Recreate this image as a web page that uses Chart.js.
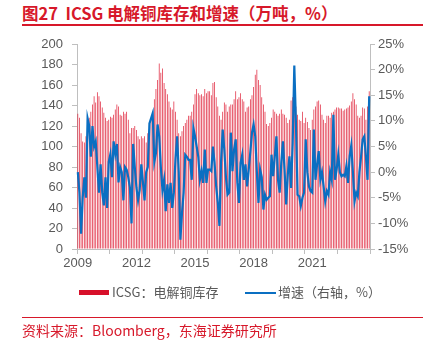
<!DOCTYPE html>
<html lang="zh">
<head>
<meta charset="UTF-8">
<title>ICSG 电解铜库存和增速</title>
<script src="https://cdn.jsdelivr.net/npm/chart.js"></script>
<style>
  body { margin: 0; width: 436px; height: 346px; position: relative; background: #fff; overflow: hidden;
         font-family: "Noto Sans CJK SC", "Liberation Sans", sans-serif; }
  #chart { position: absolute; left: 0; top: 0; }
  #title { position: absolute; left: 22px; top: 1px; font-size: 16.5px; font-weight: bold; color: #d7182a; white-space: nowrap; }
  #topLine { position: absolute; left: 22px; top: 24px; width: 401px; height: 2px; background: #d7182a; }
  #bottomLine { position: absolute; left: 22px; top: 317px; width: 401px; height: 1px; background: #d7182a; }
  #source { position: absolute; left: 22px; top: 320px; font-size: 14px; color: #d7182a; white-space: nowrap; }
  .legend { position: absolute; top: 283px; font-size: 13px; color: #595959; white-space: nowrap; line-height: 18px; }
  .swatch { position: absolute; }
</style>
</head>
<body>

<div id="title">图27&nbsp; ICSG 电解铜库存和增速（万吨，%）</div>
<div id="topLine"></div>

<canvas id="chart" width="436" height="346"></canvas>

<div class="swatch" style="left:79px; top:290px; width:30px; height:5px; background:#d7102a;"></div>
<div class="legend" style="left:112px;">ICSG：电解铜库存</div>
<div class="swatch" style="left:245px; top:292px; width:31px; height:2px; background:#0a6fc2;"></div>
<div class="legend" style="left:278px;">增速（右轴，%）</div>

<div id="bottomLine"></div>
<div id="source">资料来源：Bloomberg，东海证券研究所</div>

<script>
    // months 2009-01 .. 2023-12
    const months = [];
    for (let y = 2009; y <= 2023; y++) {
        for (let m = 1; m <= 12; m++) months.push(y + '-' + String(m).padStart(2, '0'));
    }

    // ICSG refined copper stocks (10k tonnes), one row per year
    const stock2009 = [132, 128, 113, 105, 104, 110, 123, 128, 134, 141, 149, 143];
    const stock2010 = [153, 149, 144, 138, 133, 128, 125, 126, 129, 128, 131, 136];
    const stock2011 = [141, 139, 131, 130, 134, 132, 134, 126, 113, 118, 118, 120];
    const stock2012 = [116, 110, 107, 110, 108, 110, 104, 113, 121, 126, 134, 146];
    const stock2013 = [156, 165, 181, 172, 176, 162, 156, 151, 144, 138, 136, 144];
    const stock2014 = [134, 126, 113, 110, 115, 120, 123, 126, 130, 130, 134, 141];
    const stock2015 = [151, 156, 152, 150, 151, 149, 156, 152, 154, 154, 150, 162];
    const stock2016 = [163, 148, 139, 130, 126, 134, 143, 141, 134, 139, 141, 141];
    const stock2017 = [146, 154, 146, 148, 152, 146, 144, 134, 138, 139, 146, 150];
    const stock2018 = [158, 170, 175, 165, 160, 148, 141, 134, 122, 120, 123, 128];
    const stock2019 = [136, 134, 132, 130, 132, 136, 132, 131, 128, 123, 126, 145];
    const stock2020 = [148, 141, 139, 131, 126, 125, 134, 123, 128, 124, 118, 116];
    const stock2021 = [126, 136, 139, 144, 145, 141, 131, 126, 123, 130, 130, 128];
    const stock2022 = [133, 134, 136, 138, 138, 137, 137, 135, 136, 137, 138, 140];
    const stock2023 = [144, 152, 146, 141, 130, 128, 130, 138, 137, 126, 139, 154];

    // growth rate (%, right axis)
    const growth2009 = [0, -4, -12, -5, -1, -5, 10.5, 9, 3, 9, 5, 6];
    const growth2010 = [1, -4, 1.5, -4, -6.5, -1, -7, 2, 3.5, -1, 6, 3.5];
    const growth2011 = [5.5, -2, 1, 0, -5.5, 1, 0.5, -1, -3, -10, 5.5, 1];
    const growth2012 = [-3, -5.5, -3.5, 1.5, -2, -5.5, 0, 1, 9.5, 10.5, 11.5, 2];
    const growth2013 = [3.7, 9.3, 7, 1, -3.5, -1.5, -7.6, -2.4, -6, -2.1, -7, -4];
    const growth2014 = [2.5, 7, 0, -13.2, -8, -4, 3.4, 3, 2.4, 2.4, -1.5, 8.6];
    const growth2015 = [7, 5, 3, -1.5, 0.2, -2.1, 4.4, -2.1, 0.5, 0.5, 0.2, 5];
    const growth2016 = [1.8, -2.8, -6, -10.5, 2, 8.3, 4.4, -1, -4.4, -4, 7.7, 0.2];
    const growth2017 = [4.4, 6.4, -2, -6, 1.8, 3.4, -1.5, 1.5, -2.8, 0.5, 4, 7.7];
    const growth2018 = [9.3, 7, 0, -6, 0.5, -1, -7.3, -4.4, -5.4, -5, -4.7, 3.4];
    const growth2019 = [-0.8, 3, 7, -1.5, -4, 1.8, 6, 0.5, -6.3, -0.5, 3.1, -3.1];
    const growth2020 = [5.7, 20.8, 9.6, -4.4, -4.7, -6.6, -5, -4, 6.4, 0, -2.8, -3.7];
    const growth2021 = [-4, 8.3, -1.5, 1.5, 4.1, -1.5, 0, -2.8, -5.7, -3.7, -4.4, 0];
    const growth2022 = [-1.5, 11.2, -1.5, 0.5, 3.4, 0, -0.8, -0.5, -0.8, 1.2, -2.1, 3.1];
    const growth2023 = [5.2, 0, -5.7, -4, -4.7, 0, 3, 6.4, 7, 3, -1.5, 14.8];

    const stock = [].concat(stock2009, stock2010, stock2011, stock2012, stock2013, stock2014, stock2015,
        stock2016, stock2017, stock2018, stock2019, stock2020, stock2021, stock2022, stock2023);
    const growth = [].concat(growth2009, growth2010, growth2011, growth2012, growth2013, growth2014, growth2015,
        growth2016, growth2017, growth2018, growth2019, growth2020, growth2021, growth2022, growth2023);

    const axisGray = '#bfbfbf';
    const textGray = '#595959';
    const tickFont = { family: 'Liberation Sans', size: 13 };

    new Chart(document.getElementById('chart'), {
        type: 'bar',
        data: {
            labels: months,
            datasets: [{
                type: 'line',
                label: '增速（右轴，%）',
                data: growth,
                yAxisID: 'y1',
                borderColor: '#0a6fc2',
                borderWidth: 2.2,
                pointRadius: 0,
                tension: 0,
                order: 1
            }, {
                label: 'ICSG：电解铜库存',
                data: stock,
                yAxisID: 'y',
                backgroundColor: '#e0283f',
                barPercentage: 0.45,
                categoryPercentage: 1,
                order: 2
            }]
        },
        options: {
            responsive: false,
            animation: false,
            layout: { padding: { left: 0, right: 0, top: 44, bottom: 73 } },
            plugins: { legend: { display: false }, tooltip: { enabled: false } },
            scales: {
                x: {
                    grid: {
                        drawOnChartArea: false,
                        tickLength: 5,
                        tickColor: ctx => (ctx.index === undefined || ctx.index % 20 === 0) ? axisGray : 'rgba(0,0,0,0)'
                    },
                    border: { color: axisGray },
                    ticks: {
                        autoSkip: false,
                        maxRotation: 0,
                        padding: 2,
                        color: textGray,
                        font: tickFont,
                        callback: (v, i) => i % 36 === 0 ? String(2009 + i / 12) : ''
                    },
                    afterFit: s => { s.height = 24; }
                },
                y: {
                    position: 'left',
                    min: 0, max: 200,
                    grid: { drawOnChartArea: false, tickLength: 5, tickColor: axisGray },
                    border: { color: axisGray },
                    ticks: { stepSize: 20, padding: 9, color: textGray, font: tickFont },
                    afterFit: s => { s.width = 77; }
                },
                y1: {
                    position: 'right',
                    min: -15, max: 25,
                    grid: { drawOnChartArea: false, tickLength: 5, tickColor: axisGray },
                    border: { color: axisGray },
                    ticks: { stepSize: 5, padding: 3, color: textGray, font: tickFont, callback: v => v + '%' },
                    afterFit: s => { s.width = 66; }
                }
            }
        }
    });
</script>
</body>
</html>
